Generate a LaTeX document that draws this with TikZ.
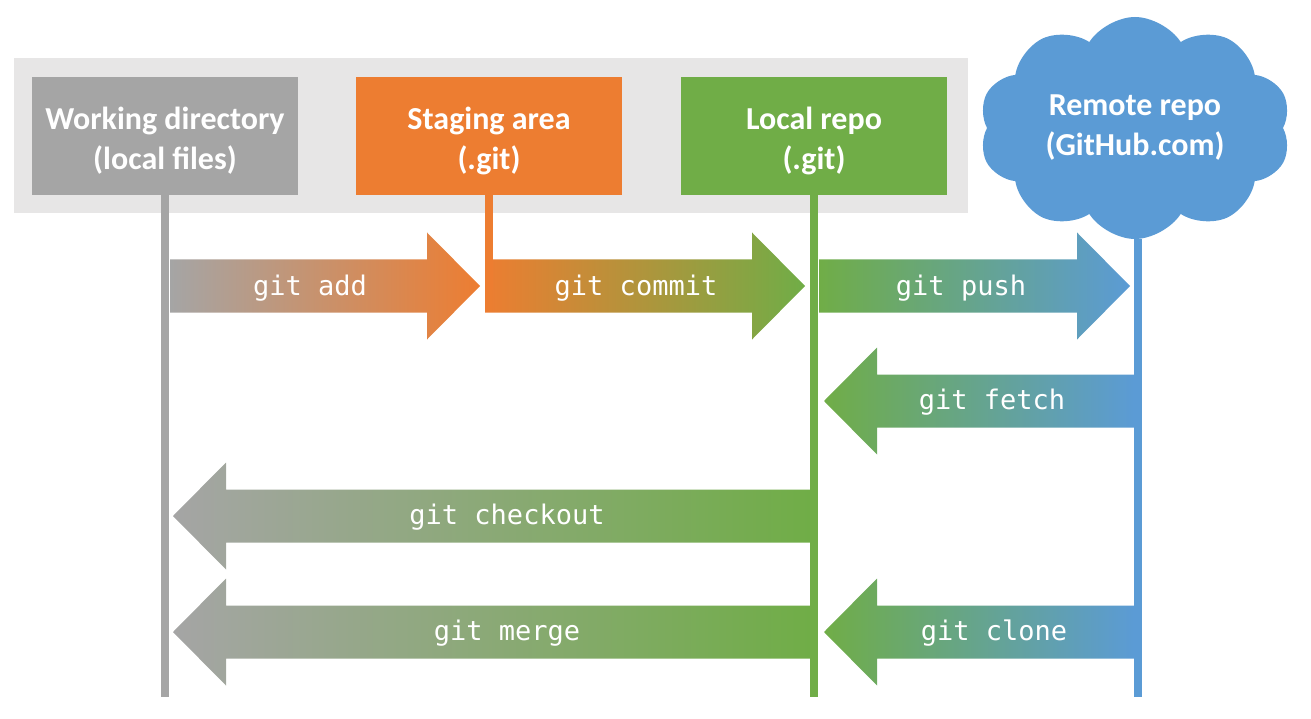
\documentclass[tikz,border=0pt]{standalone}
\usepackage{fontspec}
\setmainfont{Carlito}
\newfontfamily\monof{DejaVu Sans Mono}
\usetikzlibrary{shapes.symbols}
\definecolor{cgray}{HTML}{A5A5A5}
\definecolor{corange}{HTML}{ED7D31}
\definecolor{cgreen}{HTML}{70AD47}
\definecolor{cblue}{HTML}{5B9BD5}
\definecolor{cbg}{HTML}{E7E6E6}
\newcommand\lowstrut{\rule{0pt}{32pt}}
\tikzset{
 title/.style={text=white, font=\bfseries\fontsize{32}{40}\selectfont, align=center},
 lane/.style={title, draw=none, fill=#1, minimum width=266pt, minimum height=118pt, inner sep=0pt},
 vline/.style={line width=8pt, draw=#1},
 cmd/.style={text=white, font=\monof\fontsize{27}{32}\selectfont, inner sep=0pt},
}
\newcommand\rblock[5]{%
 \shade[left color=#4, right color=#5] (#1,#3-26.5) -- (#2-53,#3-26.5) -- (#2-53,#3-53.5) -- (#2,#3) -- (#2-53,#3+53.5) -- (#2-53,#3+26.5) -- (#1,#3+26.5) -- cycle;}
\newcommand\lblock[5]{%
 \shade[left color=#4, right color=#5] (#1,#3-26.5) -- (#2+53,#3-26.5) -- (#2+53,#3-53.5) -- (#2,#3) -- (#2+53,#3+53.5) -- (#2+53,#3+26.5) -- (#1,#3+26.5) -- cycle;}
\begin{document}
\begin{tikzpicture}[x=1pt,y=-1pt]
\useasboundingbox (0,0) rectangle (1311,719);
\fill[cbg] (14,58) rectangle (968,213);
% block arrows
\rblock{170}{480}{286}{cgray}{corange}
\rblock{485}{805}{286}{corange}{cgreen}
\rblock{819}{1130}{286}{cgreen}{cblue}
\lblock{1134}{824}{401}{cgreen}{cblue}
\lblock{810}{173}{516}{cgray}{cgreen}
\lblock{810}{173}{632}{cgray}{cgreen}
\lblock{1134}{824}{632}{cgreen}{cblue}
% lanes
\node[lane=cgray] (wd) at (165,136) {\lowstrut Working directory\\(local files)};
\node[lane=corange] (sa) at (489,136) {\lowstrut Staging area\\(.git)};
\node[lane=cgreen] (lr) at (814,136) {\lowstrut Local repo\\(.git)};
\node[title, cloud, cloud puffs=10, cloud puff arc=115, aspect=1.4, fill=cblue, draw=none,
      minimum width=312pt, minimum height=222pt, inner sep=0pt] (remote) at (1135,128) {Remote repo\\(GitHub.com)};
\coordinate (wdend) at (165,697);
\coordinate (saend) at (489,290);
\coordinate (lrend) at (814,697);
\coordinate (rmend) at (1138,697);
\draw[vline=cgray] (wd.south) -- (wdend);
\draw[vline=corange] (sa.south) -- (saend);
\draw[vline=cgreen] (lr.south) -- (lrend);
\draw[vline=cblue] (remote.south -| rmend) -- (rmend);
% labels
\node[cmd] (add) at (310,288) {git add};
\node[cmd] (commit) at (636,288) {git commit};
\node[cmd] (push) at (961,288) {git push};
\node[cmd] (fetch) at (992,402) {git fetch};
\node[cmd] (checkout) at (507,517) {git checkout};
\node[cmd] (merge) at (507,633) {git merge};
\node[cmd] (clone) at (994,633) {git clone};
\end{tikzpicture}
\end{document}
